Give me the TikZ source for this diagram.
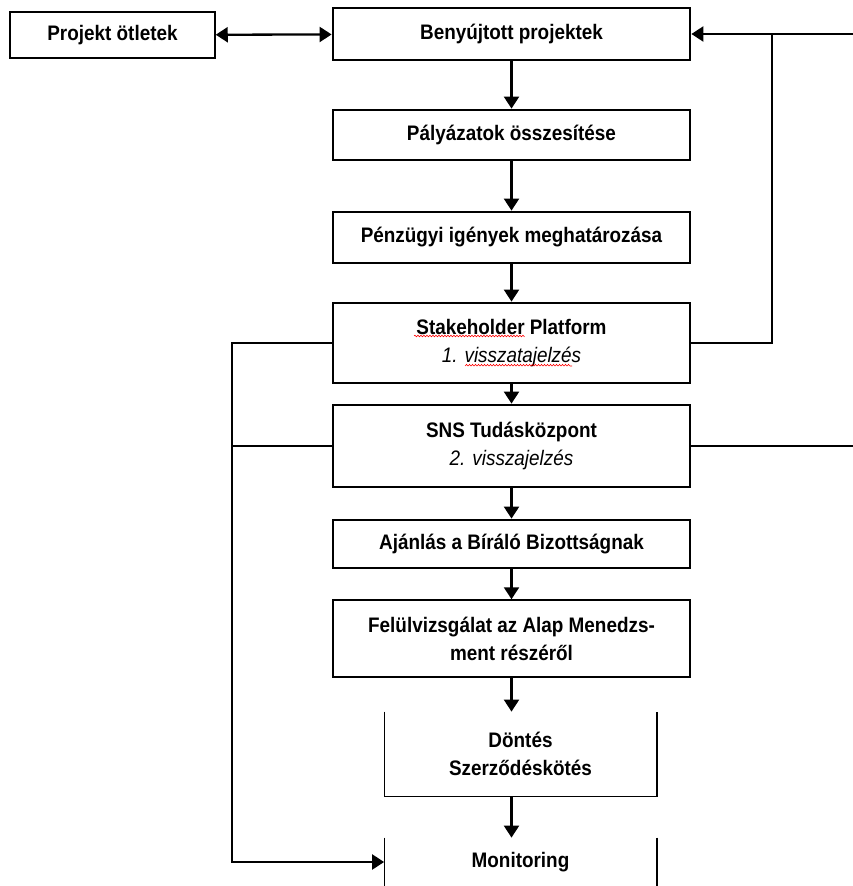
\documentclass[tikz,border=0pt]{standalone}
\usepackage{fontspec}
\setmainfont[FakeStretch=0.9]{Liberation Sans}
\usetikzlibrary{arrows.meta,decorations.pathmorphing}

\begin{document}
\begin{tikzpicture}[x=1pt,y=-1pt,
  box/.style={draw,line width=2.8pt,minimum width=357pt,inner sep=0pt,align=center,
    font=\fontsize{21}{28}\selectfont\bfseries},
  thinbox/.style={box,line width=1.5pt},
  openbox/.style={box,draw=none,minimum width=270pt},
  con/.style={line width=2.3pt},
  arr/.style={con,-{Triangle[length=12pt,width=15pt]}},
  darr/.style={con,{Triangle[length=12pt,width=15pt]}-{Triangle[length=12pt,width=15pt]}},
  spell/.style={red,line width=0.6pt,decorate,decoration={snake,amplitude=0.8pt,segment length=3pt}}]
 \useasboundingbox (0,0) rectangle (853,886);
 % main column
 \node[thinbox,minimum width=205pt,minimum height=46pt] (idea) at (112.5,35) {Projekt ötletek};
 \node[box,minimum height=52pt] (sub) at (511.5,34) {Benyújtott projektek};
 \node[box,minimum height=50pt] (sum) at (511.5,135) {Pályázatok összesítése};
 \node[box,minimum height=51pt] (fin) at (511.5,237.5) {Pénzügyi igények meghatározása};
 \node[box,minimum height=80pt] (stake) at (511.5,343)
   {Stakeholder Platform\\{\mdseries\itshape 1. visszatajelzés}};
 \node[box,minimum height=82pt] (sns) at (511.5,446)
   {SNS Tudásközpont\\{\mdseries\itshape 2. visszajelzés}};
 \node[box,minimum height=48pt] (rec) at (511.5,544) {Ajánlás a Bíráló Bizottságnak};
 \node[thinbox,minimum height=77pt] (rev) at (511.5,638.5)
   {Felülvizsgálat az Alap Menedzs-\\ment részéről};
 \node[openbox,minimum height=82pt] (dec) at (520.5,754) {Döntés\\Szerződéskötés};
 \node[openbox,minimum height=46pt] (mon) at (520.5,862) {Monitoring};
 \draw[line width=1.2pt] (dec.north west) -- (dec.south west) -- (dec.south east) -- (dec.north east);
 \draw[line width=1.2pt] (mon.north west) -- (mon.south west) (mon.north east) -- (mon.south east);
 % spelling marks
 \draw[spell] (414,336) -- (524,336) (465,366) -- (572,366);
 % arrows down
 \draw[darr] (idea) -- (sub);
 \foreach \a/\b in {sub/sum,sum/fin,fin/stake,stake/sns,sns/rec,rec/rev}
   \draw[arr] (\a) -- (\b);
 \draw[arr] (rev) -- (rev |- dec.north);
 \draw[arr] (dec.south -| rev) -- (mon.north -| rev);
 % feedback lines
 \coordinate (rx) at (772,0);
 \coordinate (redge) at (853,0);
 \coordinate (lx) at (232,0);
 \draw[con] (stake.east) -| (rx |- sub.east);
 \draw[arr] (redge |- sub.east) -- (sub.east);
 \draw[con] (sns.east) -- (redge |- sns.east);
 \draw[arr] (stake.west) -| (lx |- mon) -- (mon.west);
 \draw[con] (sns.west) -- (lx |- sns.west);
\end{tikzpicture}
\end{document}
